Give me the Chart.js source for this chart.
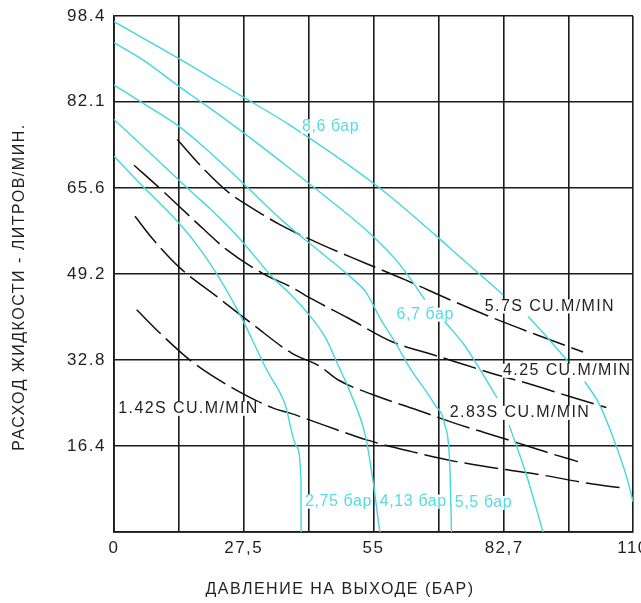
<!DOCTYPE html>
<html>
<head>
<meta charset="utf-8">
<script src="https://cdn.jsdelivr.net/npm/chart.js@4.4.0/dist/chart.umd.min.js"></script>
<style>
  html, body { margin: 0; padding: 0; background: #fff; }
  #wrap { width: 641px; height: 603px; }
</style>
</head>
<body>
<div id="wrap"><canvas id="flow-chart" width="641" height="603"></canvas></div>
<script>
// axis ticks
const xTickValues = [0, 13.75, 27.5, 41.25, 55, 68.85, 82.7, 96.35, 110];
const xTickLabels = ['0', '', '27,5', '', '55', '', '82,7', '', '110'];
const yTickValues = [0, 16.4, 32.8, 49.2, 65.6, 82.1, 98.4];
const yTickLabels = ['', '16.4', '32.8', '49.2', '65.6', '82.1', '98.4'];

// pressure curves (cyan), null = break in the line
const bar86X = [0, 13.41, 26.69, 37.28, 56.70, 67.99, 74.35, 82.46, 85.1, 87.76, 91.65, 96.23, 98.0, 99.77, 102.94, 106.48, 108.94, 110];
const bar86Y = [97.33, 90.46, 83.32, 77.59, 65.31, 56.71, 51.62, 45.26, null, 41.11, 37.29, 32.52, null, 28.70, 24.25, 16.29, 9.61, 5.79];
const bar67X = [0, 6.21, 13.41, 19.64, 26.69, 37.28, 42.94, 53.32, 59.52, 62.34, 65.88, 67.8, 69.75, 74.35, 77.10, 81.19, 82.5, 83.73, 87.42, 90.93];
const bar67Y = [93.32, 90.0, 85.22, 81.25, 76.63, 69.32, 65.31, 57.67, 52.13, 48.89, 44.30, null, 40.48, 35.52, 31.70, 25.59, null, 20.43, 10.88, 0];
const bar55X = [0, 6.21, 13.41, 19.64, 26.69, 36.22, 44.00, 50.35, 53.32, 56.70, 59.52, 62.70, 67.99, 70.11, 71.17, 71.53];
const bar55Y = [85.22, 81.73, 77.59, 72.95, 67.09, 58.95, 53.22, 48.45, 45.83, 40.29, 36.28, 31.32, 24.25, 20.43, 12.79, 0];
const bar413X = [0, 6.21, 13.41, 16.80, 20.33, 26.69, 33.74, 37.28, 41.16, 44.69, 47.66, 49.99, 53.32, 54.71, 56.34];
const bar413Y = [78.68, 73.46, 67.41, 64.54, 61.69, 55.89, 48.45, 45.45, 41.63, 37.24, 31.51, 26.79, 18.20, 10.88, 0];
const bar275X = [0, 6.21, 13.41, 17.52, 21.75, 26.69, 32.35, 36.22, 38.70, 39.61, 39.66];
const bar275Y = [71.67, 65.82, 59.25, 54.81, 49.27, 41.44, 30.94, 24.44, 16.29, 10.25, 0];

// air flow curves (black dashed)
const flow57X = [13.41, 19.28, 24.57, 28.11, 35.16, 44.00, 53.17, 61.64, 71.17, 80.34, 89.54, 99.41];
const flow57Y = [74.86, 68.99, 64.54, 62.44, 58.62, 54.81, 51.31, 48.12, 44.30, 40.81, 37.62, 34.32];
const flow425X = [4.24, 9.38, 16.80, 23.87, 31.98, 37.28, 42.22, 49.63, 58.82, 67.64, 74.35, 81.06, 87.42, 96.59, 104.36];
const flow425Y = [69.95, 65.82, 59.58, 53.85, 49.08, 46.84, 44.30, 40.81, 36.34, 33.80, 31.89, 29.98, 28.40, 25.84, 23.74];
const flow283X = [4.45, 8.32, 13.98, 21.75, 29.51, 37.64, 43.63, 47.45, 54.92, 64.12, 73.29, 82.46, 92.35, 98.35];
const flow283Y = [60.21, 55.76, 50.36, 44.93, 39.53, 34.12, 31.60, 29.03, 26.16, 23.30, 20.43, 17.89, 15.03, 13.42];
const flow142X = [4.81, 10.10, 16.46, 24.57, 33.74, 37.28, 44.33, 53.53, 63.06, 72.59, 81.06, 90.59, 100.47, 108.24];
const flow142Y = [42.39, 37.62, 32.52, 27.75, 23.62, 22.67, 20.43, 17.57, 15.33, 13.42, 12.16, 10.88, 9.30, 8.34];

// curve labels: text, anchor x, anchor y (left edge, middle)
const labelTexts = ['8,6 бар', '6,7 бар', '2,75 бар', '4,13 бар', '5,5 бар', '5.7S CU.M/MIN', '4.25 CU.M/MIN', '2.83S CU.M/MIN', '1.42S CU.M/MIN'];
const labelX = [39.82, 59.88, 40.46, 56.34, 72.23, 78.59, 82.46, 71.17, 0.91];
const labelY = [77.34, 41.44, 5.79, 5.79, 5.54, 43.02, 30.74, 22.72, 23.49];

const xTitle = 'ДАВЛЕНИЕ НА ВЫХОДЕ (БАР)';
const yTitle = 'РАСХОД ЖИДКОСТИ - ЛИТРОВ/МИН.';

const CYAN = '#45d6df';
const CYAN_TEXT = '#55dbe4';
const INK = '#231f20';
const GRID = '#1a1a1a';
const FONT = '"Liberation Sans", Arial, sans-serif';

function pts(xs, ys) {
  return xs.map(function (x, i) { return {x: x, y: ys[i]}; });
}

function curve(xs, ys, dashed) {
  return {
    data: pts(xs, ys),
    borderColor: dashed ? '#111' : CYAN,
    borderWidth: dashed ? 1.5 : 1.4,
    borderDash: dashed ? [34, 7] : [],
    pointRadius: 0,
    cubicInterpolationMode: 'monotone',
    fill: false,
    spanGaps: false
  };
}

const labelPlugin = {
  id: 'curveLabels',
  beforeDraw(chart) {
    chart.ctx.letterSpacing = '1.5px';
  },
  afterDatasetsDraw(chart) {
    const ctx = chart.ctx;
    const xs = chart.scales.x, ys = chart.scales.y;
    ctx.save();
    ctx.textBaseline = 'middle';
    ctx.textAlign = 'left';
    labelTexts.forEach(function (t, i) {
      const cyan = t.indexOf('бар') >= 0;
      ctx.font = '16px ' + FONT;
      ctx.letterSpacing = cyan ? '0.6px' : '1.4px';
      const px = xs.getPixelForValue(labelX[i]);
      const py = ys.getPixelForValue(labelY[i]);
      const w = ctx.measureText(t).width;
      ctx.fillStyle = '#fff';
      ctx.fillRect(px - 1, py - 7, w + 1, 14);
      ctx.fillStyle = cyan ? CYAN_TEXT : INK;
      ctx.fillText(t, px, py);
    });
    ctx.restore();
  },
  afterDraw(chart) {
    const ctx = chart.ctx;
    ctx.save();
    ctx.font = '16px ' + FONT;
    ctx.letterSpacing = '1.5px';
    ctx.fillStyle = INK;
    ctx.textAlign = 'center';
    ctx.textBaseline = 'middle';
    ctx.fillText(xTitle, 340, 590);
    ctx.translate(20, 287);
    ctx.rotate(-Math.PI / 2);
    ctx.fillText(yTitle, 0, 0);
    ctx.restore();
  }
};

new Chart(document.getElementById('flow-chart'), {
  type: 'line',
  data: {
    datasets: [
      curve(bar86X, bar86Y, false),
      curve(bar67X, bar67Y, false),
      curve(bar55X, bar55Y, false),
      curve(bar413X, bar413Y, false),
      curve(bar275X, bar275Y, false),
      curve(flow57X, flow57Y, true),
      curve(flow425X, flow425Y, true),
      curve(flow283X, flow283Y, true),
      curve(flow142X, flow142Y, true)
    ]
  },
  options: {
    responsive: false,
    animation: false,
    devicePixelRatio: 1,
    layout: { padding: { top: 16, right: 8, left: 0, bottom: 0 } },
    plugins: {
      legend: { display: false },
      tooltip: { enabled: false }
    },
    scales: {
      x: {
        type: 'linear',
        min: 0,
        max: 110,
        afterBuildTicks: function (s) { s.ticks = xTickValues.map(function (v) { return {value: v}; }); },
        afterFit: function (s) { s.height = 71; s.paddingLeft = 0; s.paddingRight = 0; },
        ticks: {
          autoSkip: false,
          maxRotation: 0,
          padding: 6,
          color: INK,
          font: { size: 17, family: FONT },
          callback: function (v, i) { return xTickLabels[i]; }
        },
        grid: { color: GRID, lineWidth: 1.6, drawTicks: false },
        border: { display: true, color: GRID, width: 1.8 }
      },
      y: {
        type: 'linear',
        min: 0,
        max: 98.4,
        afterBuildTicks: function (s) { s.ticks = yTickValues.map(function (v) { return {value: v}; }); },
        afterFit: function (s) { s.width = 114; s.paddingTop = 0; s.paddingBottom = 0; },
        ticks: {
          autoSkip: false,
          padding: 8,
          color: INK,
          font: { size: 17, family: FONT },
          callback: function (v, i) { return yTickLabels[i]; }
        },
        grid: { color: GRID, lineWidth: 1.6, drawTicks: false },
        border: { display: true, color: GRID, width: 1.8 }
      }
    }
  },
  plugins: [labelPlugin]
});
</script>
</body>
</html>
